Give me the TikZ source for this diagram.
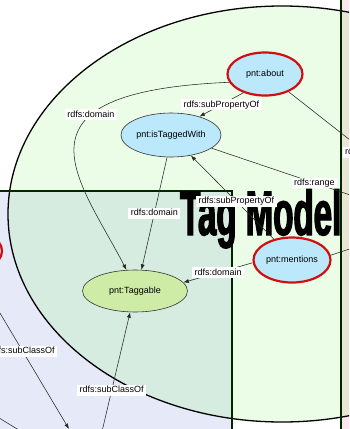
\documentclass[tikz,border=0pt]{standalone}
\usepackage{fontspec}
\setmainfont{Liberation Sans}
\newfontfamily\titlefont[FakeStretch=0.525,FakeBold=2]{Liberation Sans}
\usetikzlibrary{arrows.meta,shapes.geometric}

\definecolor{zonegreen}{RGB}{235,252,231}
\definecolor{zoneteal}{RGB}{214,236,224}
\definecolor{zonelilac}{RGB}{230,233,248}
\definecolor{zonebeige}{RGB}{234,230,212}
\definecolor{zonepink}{RGB}{252,232,234}
\definecolor{propblue}{RGB}{187,232,250}
\definecolor{classgreen}{RGB}{207,236,166}
\definecolor{keyred}{RGB}{208,16,16}

\tikzset{
  prop/.style={ellipse, draw=black!80, line width=0.6pt, fill=propblue, inner sep=0pt, font=\fontsize{9}{10}\selectfont},
  keyprop/.style={prop, draw=keyred, line width=2.2pt},
  cls/.style={prop, fill=classgreen},
  rel/.style={->, draw=black!85, line width=0.55pt},
  rellabel/.style={fill=white, inner xsep=2.5pt, inner ysep=1pt, text height=6.8pt, text depth=2pt, font=\fontsize{9}{10}\selectfont},
  zone/.style={draw=black!85!green, line width=1.2pt},
}

\begin{document}
\begin{tikzpicture}[x=1pt, y=-1pt, >={Latex[length=5.5pt,width=4pt]}]
\useasboundingbox (0,0) rectangle (349,429);
\clip (0,0) rectangle (349,429);

% zones
\fill[zonelilac] (0,191) rectangle (232,429);
\fill[zonepink] (341,0) rectangle (349,429);
\fill[zonegreen] (282,214) ellipse [x radius=274, y radius=208];
\begin{scope}
  \clip (0,191) rectangle (232,429);
  \fill[zoneteal] (282,214) ellipse [x radius=274, y radius=208];
\end{scope}
\begin{scope}
  \clip (341,0) rectangle (349,429);
  \fill[zonebeige] (282,214) ellipse [x radius=274, y radius=208];
\end{scope}
\draw[line width=1.3pt] (282,214) ellipse [x radius=274, y radius=208];
\draw[zone] (0,191) -- (232,191) -- (232,429);
\draw[zone] (341,0) -- (341,429);

% title
\node[anchor=base west, inner sep=0pt, font=\titlefont\bfseries\fontsize{63}{63}\selectfont] (title) at (180,235) {Tag Model};

% properties and classes
\node[keyprop, minimum width=75pt, minimum height=43pt] (about) at (265,74) {pnt:about};
\node[prop, minimum width=100pt, minimum height=44pt] (tagged) at (171,135) {pnt:isTaggedWith};
\node[keyprop, minimum width=77pt, minimum height=45pt] (mentions) at (292,260) {pnt:mentions};
\node[cls, minimum width=105pt, minimum height=42pt] (taggable) at (135,291) {pnt:Taggable};
\node[keyprop, minimum width=78pt, minimum height=45pt] (leftprop) at (-37,251) {};

% ends outside the frame
\coordinate (aboutR) at (420,195);
\coordinate (rangeR) at (365,200);
\coordinate (mentionsR) at (400,232);
\coordinate (baseA) at (69,429);
\coordinate (leftB) at (-40,394);
\coordinate (baseB) at (40,443);
\coordinate (baseC) at (100,440);

% relations
\draw[rel] (about.193) .. controls (0,92) and (80,180) .. (taggable.112) node[rellabel, pos=0.33] (domA) {rdfs:domain};
\draw[rel] (about.221) -- node[rellabel] (subA) {rdfs:subPropertyOf} (tagged.33);
\draw[rel] (about.323) -- node[rellabel, pos=0.585] (rngA) {rdfs:range} (aboutR);
\draw[rel] (tagged.260) -- node[rellabel] (domT) {rdfs:domain} (taggable.73);
\draw[rel] (tagged.342) -- node[rellabel, pos=0.67] (rngT) {rdfs:range} (rangeR);
\draw[rel] (mentions.131) -- node[rellabel, pos=0.45] (subM) {rdfs:subPropertyOf} (tagged.314);
\draw[rel] (mentions.184) -- node[rellabel] (domM) {rdfs:domain} (taggable.10);
\draw[rel] (mentions.7) -- (mentionsR);
\draw[rel] (leftprop) -- node[rellabel] (clsL) {rdfs:subClassOf} (baseA);
\draw[rel] (leftB) -- (baseB);
\draw[rel] (baseC) -- node[rellabel, pos=0.39] (clsB) {rdfs:subClassOf} (taggable.257);
\end{tikzpicture}
\end{document}
